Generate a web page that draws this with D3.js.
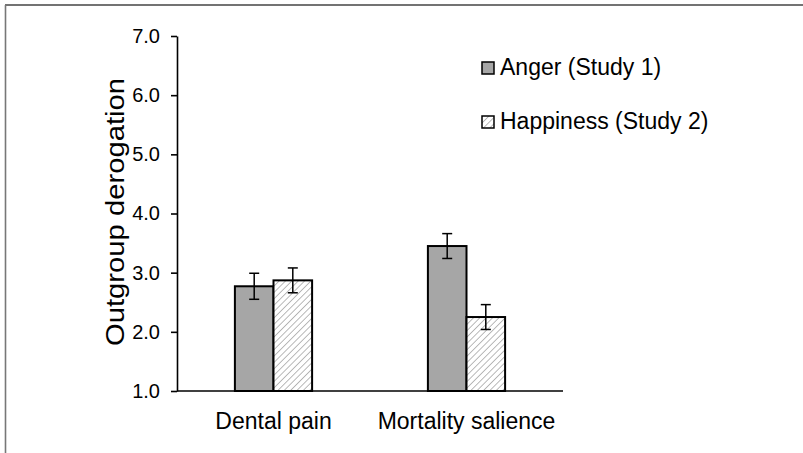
<!DOCTYPE html>
<html>
<head>
<meta charset="utf-8">
<script src="https://cdn.jsdelivr.net/npm/d3@7"></script>
<style>
  body { margin: 0; background: #fff; }
  svg { display: block; font-family: Arial, "Liberation Sans", sans-serif; }
</style>
</head>
<body>
<div id="chart"></div>
<script>
// data
const categories = ['Dental pain', 'Mortality salience'];
const series = ['Anger (Study 1)', 'Happiness (Study 2)'];
const means = [
    [2.77, 2.87],   // Dental pain
    [3.45, 2.25]    // Mortality salience
];
const errors = [
    [0.22, 0.21],
    [0.21, 0.21]
];
const yTicks = [1, 2, 3, 4, 5, 6, 7];

const width = 803, height = 453;

const svg = d3.select('#chart')
    .append('svg')
    .attr('width', width)
    .attr('height', height);

// hatch pattern for the second series
svg.append('defs').append('pattern')
    .attr('id', 'hatch')
    .attr('patternUnits', 'userSpaceOnUse')
    .attr('width', 4.5)
    .attr('height', 4.5)
    .attr('patternTransform', 'rotate(45)')
    .call(p => {
        p.append('rect').attr('width', 4.5).attr('height', 4.5).attr('fill', '#fff');
        p.append('line')
            .attr('x1', 0).attr('y1', 0).attr('x2', 0).attr('y2', 4.5)
            .attr('stroke', '#a8a8a8')
            .attr('stroke-width', 1.6);
    });

const fills = ['#a6a6a6', 'url(#hatch)'];

// outer frame (only top and left visible)
svg.append('line').attr('x1', 5).attr('y1', 5).attr('x2', width).attr('y2', 5)
    .attr('stroke', '#444').attr('stroke-width', 1.6);
svg.append('line').attr('x1', 5.5).attr('y1', 5).attr('x2', 5.5).attr('y2', height)
    .attr('stroke', '#777').attr('stroke-width', 1.6);

// scales
const x = d3.scaleBand()
    .domain(categories)
    .range([177, 563])
    .paddingInner(0.6)
    .paddingOuter(0.3);

const xs = d3.scaleBand()
    .domain(series)
    .range([0, x.bandwidth()]);

const y = d3.scaleLinear()
    .domain([1, 7])
    .range([391, 36]);

// y axis
const yAxis = svg.append('g')
    .attr('transform', 'translate(177,0)')
    .call(d3.axisLeft(y).tickValues(yTicks).tickFormat(d3.format('.1f')).tickSize(6).tickSizeOuter(0).tickPadding(11));
yAxis.select('.domain').attr('stroke', '#000').attr('stroke-width', 1.6);
yAxis.selectAll('.tick line').attr('stroke', '#000').attr('stroke-width', 1.6);
yAxis.selectAll('.tick text')
    .attr('fill', '#000')
    .style('font-size', '20px')
    .style('font-family', 'Arial, "Liberation Sans", sans-serif');

// y title
svg.append('text')
    .attr('transform', 'translate(124,212) rotate(-90)')
    .attr('text-anchor', 'middle')
    .attr('textLength', 268)
    .attr('lengthAdjust', 'spacingAndGlyphs')
    .style('font-size', '25px')
    .text('Outgroup derogation');

// bars
const groups = svg.append('g')
    .selectAll('g')
    .data(categories)
    .enter()
    .append('g')
    .attr('transform', d => `translate(${x(d)},0)`);

groups.selectAll('rect')
    .data((d, i) => means[i].map((v, j) => ({ s: series[j], v, j })))
    .enter()
    .append('rect')
    .attr('x', d => xs(d.s))
    .attr('y', d => y(d.v))
    .attr('width', xs.bandwidth())
    .attr('height', d => y(1) - y(d.v))
    .attr('fill', d => fills[d.j])
    .attr('stroke', '#000')
    .attr('stroke-width', 2);

// error bars
const errData = [];
categories.forEach((c, i) => {
    series.forEach((s, j) => {
        errData.push({ cx: x(c) + xs(s) + xs.bandwidth() / 2, v: means[i][j], e: errors[i][j] });
    });
});
const eb = svg.append('g').attr('stroke', '#000').attr('stroke-width', 1.5);
errData.forEach(d => {
    eb.append('line').attr('x1', d.cx).attr('x2', d.cx).attr('y1', y(d.v + d.e)).attr('y2', y(d.v - d.e));
    eb.append('line').attr('x1', d.cx - 5).attr('x2', d.cx + 5).attr('y1', y(d.v + d.e)).attr('y2', y(d.v + d.e));
    eb.append('line').attr('x1', d.cx - 5).attr('x2', d.cx + 5).attr('y1', y(d.v - d.e)).attr('y2', y(d.v - d.e));
});

// x axis line
svg.append('line')
    .attr('x1', 177).attr('x2', 563)
    .attr('y1', y(1)).attr('y2', y(1))
    .attr('stroke', '#000').attr('stroke-width', 1.6);

// x labels
svg.append('g')
    .selectAll('text')
    .data(categories)
    .enter()
    .append('text')
    .attr('x', d => x(d) + x.bandwidth() / 2)
    .attr('y', 429)
    .attr('text-anchor', 'middle')
    .style('font-size', '23px')
    .text(d => d);

// legend
const legend = svg.append('g')
    .selectAll('g')
    .data(series)
    .enter()
    .append('g')
    .attr('transform', (d, i) => `translate(482,${62 + i * 54})`);

legend.append('rect')
    .attr('width', 12)
    .attr('height', 12)
    .attr('fill', (d, i) => fills[i])
    .attr('stroke', '#000')
    .attr('stroke-width', 1.5);

legend.append('text')
    .attr('x', 18)
    .attr('y', 13)
    .style('font-size', '23px')
    .text(d => d);
</script>
</body>
</html>
